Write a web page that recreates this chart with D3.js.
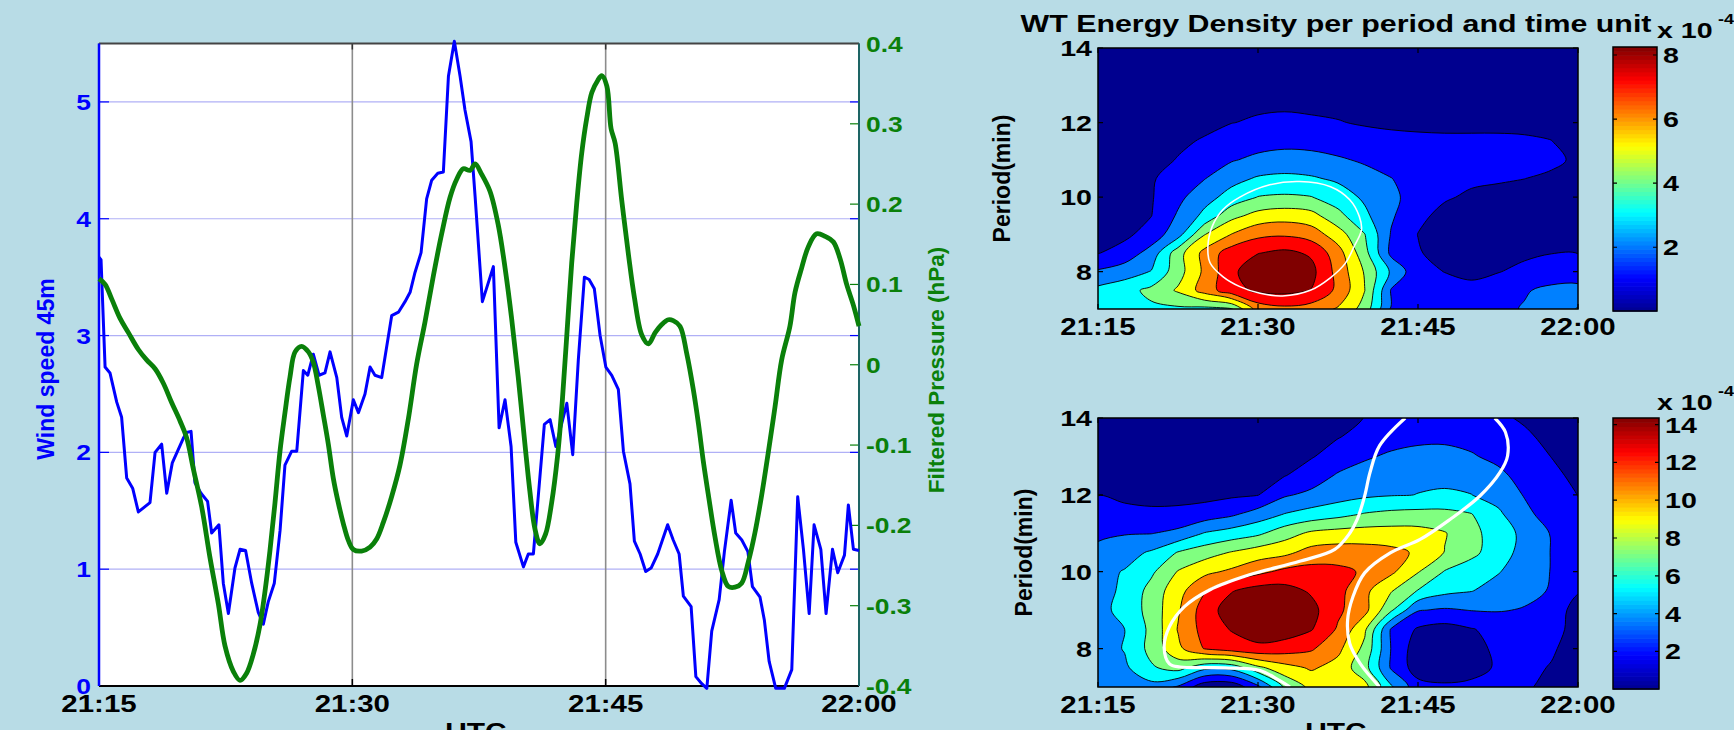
<!DOCTYPE html>
<html>
<head>
<meta charset="utf-8">
<script src="https://cdn.jsdelivr.net/npm/d3@7"></script>
<style>
  body { margin: 0; background: #b8dce6; }
  svg { display: block; }
  text { font-family: 'Liberation Sans', Arial, sans-serif; font-weight: bold; }
</style>
</head>
<body>
<svg id="svg" width="1734" height="730"></svg>
<script>
// time axis: minutes after 21:15 UTC
const timeTicks = [0, 15, 30, 45]
const timeLabels = ['21:15', '21:30', '21:45', '22:00']
const windTicks = [0, 1, 2, 3, 4, 5]
const pressTicks = [-0.4, -0.3, -0.2, -0.1, 0, 0.1, 0.2, 0.3, 0.4]
const pressLabels = ['-0.4', '-0.3', '-0.2', '-0.1', '0', '0.1', '0.2', '0.3', '0.4']
const periodTicks = [8, 10, 12, 14]

// wind speed at 45 m (m/s)
const windTime = [0, 0.12, 0.36, 0.65, 1.05, 1.34, 1.64, 2.0, 2.33, 3.02,
  3.32, 3.71, 4.01, 4.34, 4.99, 5.19, 5.45, 5.68, 6.04, 6.43,
  6.67, 7.1, 7.36, 7.66, 8.05, 8.35, 8.68, 9.04, 9.43, 9.73,
  10.02, 10.38, 10.72, 11.01, 11.41, 11.71, 12.1, 12.36, 12.69, 13.03,
  13.38, 13.68, 14.08, 14.37, 14.67, 15.06, 15.36, 15.75, 16.05, 16.34,
  16.74, 17.33, 17.73, 18.12, 18.42, 18.71, 19.07, 19.4, 19.7, 20.06,
  20.39, 20.69, 21.04, 21.38, 21.67, 22.03, 22.27, 22.7, 23.35, 23.69,
  24.04, 24.4, 24.68, 25.13, 25.42, 25.72, 26.37, 26.71, 27.05, 27.7,
  28.05, 28.38, 28.74, 29.02, 29.33, 29.67, 30.01, 30.36, 30.75, 31.05,
  31.44, 31.7, 32.04, 32.37, 32.69, 33.08, 33.67, 34.0, 34.35, 34.6,
  35.06, 35.34, 35.69, 35.99, 36.28, 36.72, 37.03, 37.43, 37.7, 38.06,
  38.42, 38.69, 39.14, 39.4, 39.68, 40.07, 40.58, 41.02, 41.37, 41.71,
  42.05, 42.34, 42.74, 43.05, 43.43, 43.74, 44.14, 44.37, 44.67, 45.0]
const windSpeed = [3.67, 3.65, 2.73, 2.68, 2.43, 2.30, 1.78, 1.69, 1.49, 1.57,
  2.0, 2.07, 1.65, 1.91, 2.12, 2.17, 2.18, 1.74, 1.65, 1.58,
  1.31, 1.38, 0.88, 0.62, 1.01, 1.17, 1.16, 0.88, 0.63, 0.53,
  0.72, 0.88, 1.33, 1.89, 2.01, 2.01, 2.70, 2.66, 2.84, 2.66,
  2.68, 2.86, 2.64, 2.30, 2.14, 2.45, 2.34, 2.50, 2.73, 2.66,
  2.64, 3.17, 3.20, 3.29, 3.37, 3.54, 3.71, 4.17, 4.33, 4.39,
  4.40, 5.22, 5.52, 5.22, 4.93, 4.66, 4.19, 3.29, 3.59, 2.21,
  2.45, 2.05, 1.23, 1.02, 1.13, 1.13, 2.24, 2.28, 2.05, 2.42,
  1.98, 2.79, 3.50, 3.48, 3.40, 3.0, 2.73, 2.66, 2.54, 2.01,
  1.73, 1.24, 1.13, 0.98, 1.01, 1.13, 1.38, 1.25, 1.13, 0.77,
  0.68, 0.08, 0.02, -0.02, 0.47, 0.74, 1.15, 1.59, 1.31, 1.25,
  1.15, 0.85, 0.76, 0.56, 0.21, -0.02, -0.02, 0.14, 1.62, 1.17,
  0.62, 1.38, 1.17, 0.62, 1.17, 0.97, 1.12, 1.55, 1.17, 1.16]

// filtered pressure (hPa)
const pressTime = [0, 0.36, 0.75, 1.24, 1.74, 2.33, 2.82, 3.32, 3.81, 4.3,
  4.8, 5.19, 5.59, 6.08, 6.57, 7.07, 7.46, 7.96, 8.35, 8.74,
  9.14, 9.53, 9.83, 10.12, 10.42, 10.72, 11.01, 11.31, 11.61, 12.0,
  12.4, 12.69, 12.98, 13.28, 13.58, 13.87, 14.17, 14.47, 14.77, 15.06,
  15.55, 16.05, 16.44, 16.84, 17.33, 17.82, 18.32, 18.81, 19.3, 19.8,
  20.29, 20.78, 21.18, 21.57, 21.97, 22.27, 22.66, 23.15, 23.64, 24.04,
  24.43, 24.82, 25.22, 25.51, 25.81, 26.11, 26.44, 26.8, 27.15, 27.43,
  27.7, 27.99, 28.29, 28.58, 28.88, 29.18, 29.53, 29.77, 30.07, 30.32,
  30.56, 30.95, 31.35, 31.7, 32.14, 32.53, 32.93, 33.32, 33.71, 34.0,
  34.4, 34.8, 35.19, 35.49, 35.78, 36.08, 36.47, 36.87, 37.26, 37.66,
  38.05, 38.45, 38.84, 39.24, 39.63, 40.03, 40.42, 40.91, 41.21, 41.61,
  42.0, 42.49, 42.99, 43.48, 43.88, 44.27, 44.67, 45.0]
const pressure = [0.107, 0.100, 0.082, 0.058, 0.040, 0.019, 0.006, -0.005, -0.023, -0.047,
  -0.070, -0.091, -0.130, -0.177, -0.240, -0.298, -0.350, -0.382, -0.393, -0.384,
  -0.360, -0.324, -0.282, -0.232, -0.172, -0.107, -0.060, -0.015, 0.016, 0.023,
  0.016, 0.003, -0.026, -0.062, -0.099, -0.141, -0.172, -0.198, -0.219, -0.230,
  -0.232, -0.227, -0.217, -0.196, -0.164, -0.125, -0.067, 0.001, 0.053, 0.111,
  0.163, 0.208, 0.231, 0.244, 0.242, 0.250, 0.237, 0.216, 0.174, 0.121,
  0.058, -0.015, -0.099, -0.157, -0.204, -0.223, -0.211, -0.172, -0.114, -0.046,
  0.037, 0.127, 0.202, 0.263, 0.307, 0.339, 0.354, 0.360, 0.347, 0.294,
  0.276, 0.205, 0.137, 0.084, 0.037, 0.026, 0.040, 0.050, 0.056, 0.055,
  0.048, 0.014, -0.031, -0.073, -0.120, -0.162, -0.214, -0.256, -0.276, -0.277,
  -0.272, -0.245, -0.209, -0.162, -0.109, -0.052, 0.006, 0.048, 0.090, 0.121,
  0.147, 0.163, 0.160, 0.153, 0.132, 0.100, 0.074, 0.048]

// wavelet energy grids (x 1e-4), rows = period 14 .. 7 min, cols = time 0 .. 45 min
const gridTime = [0, 2.5, 5, 7.5, 10, 12.5, 15, 17.5, 20, 22.5, 25, 27.5, 30, 32.5, 35, 37.5, 40, 42.5, 45]
const gridPeriod = [14, 13.5, 13, 12.5, 12, 11.5, 11, 10.5, 10, 9.5, 9, 8.5, 8, 7.5, 7]
const energyTop = [
  [0.20, 0.22, 0.25, 0.28, 0.32, 0.36, 0.40, 0.40, 0.38, 0.36, 0.34, 0.32, 0.30, 0.28, 0.27, 0.27, 0.25, 0.23, 0.20],
  [0.25, 0.30, 0.32, 0.35, 0.40, 0.45, 0.48, 0.50, 0.48, 0.45, 0.42, 0.40, 0.38, 0.36, 0.35, 0.35, 0.33, 0.30, 0.28],
  [0.30, 0.35, 0.40, 0.45, 0.50, 0.55, 0.60, 0.62, 0.60, 0.58, 0.55, 0.50, 0.48, 0.45, 0.45, 0.45, 0.42, 0.40, 0.35],
  [0.35, 0.40, 0.45, 0.50, 0.60, 0.70, 0.80, 0.82, 0.80, 0.75, 0.70, 0.65, 0.60, 0.58, 0.55, 0.55, 0.55, 0.50, 0.40],
  [0.40, 0.45, 0.50, 0.60, 0.75, 0.90, 1.00, 1.05, 1.00, 0.95, 0.85, 0.80, 0.78, 0.78, 0.78, 0.78, 0.76, 0.70, 0.50],
  [0.45, 0.50, 0.60, 0.80, 0.98, 1.25, 1.45, 1.55, 1.50, 1.35, 1.20, 1.10, 1.05, 1.02, 1.02, 1.02, 1.00, 0.93, 0.60],
  [0.50, 0.55, 0.70, 0.95, 1.35, 1.75, 2.05, 2.20, 2.15, 1.95, 1.70, 1.40, 1.20, 1.10, 1.08, 1.08, 1.06, 1.00, 0.85],
  [0.55, 0.65, 0.82, 1.35, 1.80, 2.45, 2.85, 2.95, 2.85, 2.60, 2.20, 1.85, 1.40, 1.15, 1.05, 0.98, 0.92, 0.85, 0.70],
  [0.60, 0.70, 0.85, 1.60, 2.40, 3.10, 3.70, 3.80, 3.70, 3.20, 2.60, 2.00, 1.50, 1.00, 0.80, 0.75, 0.78, 0.80, 0.70],
  [0.65, 0.75, 0.90, 1.95, 3.00, 4.30, 4.90, 5.10, 4.90, 3.95, 2.95, 1.95, 1.10, 0.70, 0.55, 0.55, 0.60, 0.65, 0.60],
  [0.70, 0.72, 1.30, 2.40, 4.55, 5.52, 6.20, 6.30, 6.00, 5.00, 3.70, 1.75, 0.90, 0.55, 0.45, 0.45, 0.55, 0.65, 0.65],
  [0.88, 1.30, 2.20, 4.20, 5.80, 6.90, 7.30, 7.55, 7.20, 5.90, 4.00, 1.60, 1.00, 0.55, 0.42, 0.50, 0.75, 0.90, 0.90],
  [1.95, 2.30, 2.80, 4.20, 5.70, 7.10, 8.00, 8.20, 7.60, 6.10, 4.50, 2.60, 1.20, 0.90, 0.60, 0.88, 1.15, 1.30, 1.35],
  [3.00, 3.35, 3.90, 4.70, 5.90, 7.00, 7.50, 7.60, 7.30, 6.20, 4.60, 1.75, 1.35, 1.30, 1.30, 1.45, 1.75, 2.05, 2.10],
  [3.30, 3.45, 3.50, 3.50, 3.40, 3.60, 5.90, 6.20, 6.00, 5.40, 4.20, 1.70, 1.40, 1.35, 1.40, 1.60, 1.90, 2.30, 2.80]
]
const energyBottom = [
  [0.30, 0.30, 0.30, 0.35, 0.40, 0.50, 0.60, 0.75, 0.95, 1.25, 1.62, 1.90, 2.10, 2.15, 2.05, 1.80, 1.45, 1.00, 0.60],
  [0.30, 0.35, 0.40, 0.45, 0.55, 0.70, 0.85, 1.00, 1.25, 1.55, 2.00, 2.45, 2.75, 2.85, 2.70, 2.30, 1.80, 1.30, 0.80],
  [0.35, 0.40, 0.45, 0.55, 0.70, 0.90, 1.10, 1.30, 1.50, 2.20, 2.95, 3.50, 3.80, 3.75, 3.35, 2.80, 2.15, 1.58, 1.00],
  [0.50, 0.55, 0.60, 0.70, 0.90, 1.10, 1.30, 1.55, 2.30, 3.40, 4.00, 4.40, 4.60, 4.60, 4.30, 3.60, 2.60, 1.90, 1.30],
  [1.58, 1.30, 1.15, 1.10, 1.15, 1.35, 1.55, 3.00, 3.60, 4.10, 4.50, 4.70, 4.82, 4.90, 4.82, 4.20, 3.10, 2.20, 1.58],
  [2.00, 2.00, 1.90, 2.00, 2.30, 2.90, 3.90, 4.85, 5.40, 5.90, 6.50, 6.80, 6.90, 6.90, 6.45, 5.10, 3.60, 2.50, 1.80],
  [2.90, 3.10, 3.15, 3.60, 4.90, 5.50, 6.10, 7.30, 8.30, 8.60, 8.70, 8.70, 8.60, 8.10, 6.90, 5.60, 4.40, 3.10, 2.30],
  [3.60, 4.20, 5.00, 6.50, 7.30, 8.10, 8.80, 9.20, 10.2, 10.4, 10.3, 10.0, 9.40, 7.95, 6.80, 5.60, 4.20, 3.15, 2.40],
  [4.30, 4.90, 6.10, 8.10, 9.20, 9.90, 10.8, 11.6, 11.8, 11.6, 11.0, 9.90, 8.10, 6.30, 5.60, 4.90, 4.00, 3.15, 2.40],
  [4.40, 5.00, 7.00, 9.00, 11.1, 12.7, 13.5, 13.4, 12.6, 11.7, 10.0, 8.10, 6.30, 5.20, 4.85, 4.20, 3.60, 3.10, 1.70],
  [4.30, 5.30, 7.00, 9.40, 12.0, 13.6, 14.3, 14.2, 13.3, 11.5, 10.1, 6.60, 3.30, 3.00, 3.25, 3.30, 3.10, 2.30, 1.10],
  [4.10, 4.80, 6.80, 9.70, 11.8, 12.9, 13.7, 13.7, 12.9, 11.0, 8.30, 3.00, 1.40, 1.00, 1.50, 2.10, 2.30, 2.00, 1.20],
  [4.00, 4.90, 6.90, 9.20, 11.3, 12.0, 12.4, 12.0, 11.4, 10.0, 7.60, 3.10, 0.70, 0.60, 1.10, 1.90, 2.20, 1.80, 0.90],
  [3.80, 4.50, 6.20, 7.00, 5.20, 5.30, 7.60, 9.00, 9.80, 9.00, 7.00, 3.00, 0.80, 0.50, 1.00, 1.80, 2.00, 1.50, 0.70],
  [3.50, 4.00, 4.20, 3.00, 0.50, 0.40, 2.80, 6.60, 8.40, 8.60, 8.50, 5.00, 2.20, 1.90, 2.00, 2.10, 1.80, 1.20, 0.60]
]
const levelsTop = [0.917, 1.83, 2.75, 3.67, 4.58, 5.5, 6.42, 7.33]
const levelsBottom = [1.6, 3.2, 4.8, 6.4, 8.0, 9.6, 11.2, 12.8]
const cbarTopTicks = [2, 4, 6, 8]
const cbarBottomTicks = [2, 4, 6, 8, 10, 12, 14]
const cbarTopRange = [0.01, 8.25]
const cbarBottomRange = [0.01, 14.35]

// white significance curves [time, period]
const sigTop = [[10.3, 8.67], [10.7, 9.21], [11.7, 9.66], [13.3, 10.0], [16.1, 10.33], [18.9, 10.42],
  [21.8, 10.28], [23.6, 9.93], [24.5, 9.48], [24.7, 9.12], [24.0, 8.67], [23.2, 8.23], [21.75, 7.83],
  [19.9, 7.5], [17.3, 7.35], [15.2, 7.42], [13.3, 7.6], [11.7, 7.87], [10.5, 8.24]]
const sigBottomA = [[28.8, 14], [26.4, 13.28], [25.5, 12.58], [25.0, 11.97], [24.3, 11.36], [23.6, 11.0],
  [22.2, 10.58], [18.9, 10.27], [14.2, 9.92], [10.5, 9.53], [8.1, 9.09], [6.7, 8.57], [6.2, 8.04],
  [6.7, 7.6], [7.7, 7.52], [11.9, 7.5], [15.2, 7.43], [17.0, 7.17], [18.0, 7.0]]
const sigBottomB = [[37.2, 14], [38.2, 13.63], [38.4, 13.02], [37.7, 12.59], [35.8, 11.97], [33.0, 11.36],
  [30.2, 10.84], [27.4, 10.49], [25.0, 9.97], [23.9, 9.35], [23.4, 8.74], [23.6, 8.13], [24.6, 7.6], [26.4, 7.0]]

const jetStops = [0, 0.125, 0.375, 0.625, 0.875, 1]
const jetColors = ['#00008f', '#0000ff', '#00ffff', '#ffff00', '#ff0000', '#800000']
const jet = d3.scaleLinear().domain(jetStops).range(jetColors)

const svg = d3.select('#svg')

// text helper, widens glyphs like the original export
function label(g, s, x, y, o = {}) {
  const t = g.append('text').attr('x', x).attr('y', y).text(s)
    .attr('font-size', o.size || 22)
    .attr('fill', o.fill || '#000')
    .attr('text-anchor', o.anchor || 'middle')
  if (o.rotate) t.attr('transform', `rotate(-90 ${x} ${y})`)
  const k = o.stretch === undefined ? 1.3 : o.stretch
  if (k !== 1) {
    const w = t.node().getComputedTextLength()
    t.attr('textLength', w * k).attr('lengthAdjust', 'spacingAndGlyphs')
  }
  return t
}

// ---------- left panel: wind speed & filtered pressure ----------
const LP = { x0: 99, x1: 859, y0: 43.5, y1: 686 }
const x = d3.scaleLinear().domain([0, 45]).range([LP.x0, LP.x1])
const yW = d3.scaleLinear().domain([0, 5.5]).range([LP.y1, LP.y0])
const yP = d3.scaleLinear().domain([-0.4, 0.4]).range([LP.y1, LP.y0])

const left = svg.append('g')
left.append('rect')
  .attr('x', LP.x0).attr('y', LP.y0)
  .attr('width', LP.x1 - LP.x0).attr('height', LP.y1 - LP.y0)
  .attr('fill', '#fff')

left.selectAll('.hgrid').data(windTicks.slice(1)).join('line')
  .attr('x1', LP.x0).attr('x2', LP.x1)
  .attr('y1', d => yW(d)).attr('y2', d => yW(d))
  .attr('stroke', '#b0b0f6').attr('stroke-width', 1.2)

left.selectAll('.vgrid').data(timeTicks.slice(1, 3)).join('line')
  .attr('x1', d => x(d)).attr('x2', d => x(d))
  .attr('y1', LP.y0).attr('y2', LP.y1)
  .attr('stroke', '#8c8c8c').attr('stroke-width', 1.6)

// tick marks
left.selectAll('.tb').data(timeTicks).join('line')
  .attr('x1', d => x(d)).attr('x2', d => x(d))
  .attr('y1', LP.y1).attr('y2', LP.y1 - 7).attr('stroke', '#000').attr('stroke-width', 1.5)
left.selectAll('.tt').data(timeTicks).join('line')
  .attr('x1', d => x(d)).attr('x2', d => x(d))
  .attr('y1', LP.y0).attr('y2', LP.y0 + 6).attr('stroke', '#333').attr('stroke-width', 1.5)
left.selectAll('.tl').data(windTicks).join('line')
  .attr('x1', LP.x0).attr('x2', LP.x0 + 10)
  .attr('y1', d => yW(d)).attr('y2', d => yW(d)).attr('stroke', '#0000ff').attr('stroke-width', 1.2)
left.selectAll('.tr').data(windTicks).join('line')
  .attr('x1', LP.x1).attr('x2', LP.x1 - 9)
  .attr('y1', d => yW(d)).attr('y2', d => yW(d)).attr('stroke', '#0000ff').attr('stroke-width', 1.2)
left.selectAll('.tp').data(pressTicks).join('line')
  .attr('x1', LP.x1).attr('x2', LP.x1 - 9)
  .attr('y1', d => yP(d)).attr('y2', d => yP(d)).attr('stroke', '#0a800a').attr('stroke-width', 1.2)

// axes frame
left.append('line').attr('x1', LP.x0).attr('x2', LP.x1).attr('y1', LP.y0).attr('y2', LP.y0)
  .attr('stroke', '#444').attr('stroke-width', 2)
left.append('line').attr('x1', LP.x0).attr('x2', LP.x1).attr('y1', LP.y1).attr('y2', LP.y1)
  .attr('stroke', '#000').attr('stroke-width', 2)
left.append('line').attr('x1', LP.x0).attr('x2', LP.x0).attr('y1', LP.y0).attr('y2', LP.y1)
  .attr('stroke', '#0000ff').attr('stroke-width', 2.5)
left.append('line').attr('x1', LP.x1).attr('x2', LP.x1).attr('y1', LP.y0).attr('y2', LP.y1)
  .attr('stroke', '#1d6464').attr('stroke-width', 2)

// series
left.append('path')
  .datum(d3.zip(windTime, windSpeed))
  .attr('d', d3.line().x(d => x(d[0])).y(d => yW(d[1])))
  .attr('fill', 'none').attr('stroke', '#0000ff').attr('stroke-width', 3)
  .attr('stroke-linejoin', 'round')
left.append('path')
  .datum(d3.zip(pressTime, pressure))
  .attr('d', d3.line().curve(d3.curveCatmullRom).x(d => x(d[0])).y(d => yP(d[1])))
  .attr('fill', 'none').attr('stroke', '#0a800a').attr('stroke-width', 4.8)
  .attr('stroke-linejoin', 'round')

// labels
timeTicks.forEach((t, i) => label(left, timeLabels[i], x(t), 712, { size: 23, stretch: 1.28 }))
windTicks.forEach(v => label(left, String(v), 91, yW(v) + 8, { anchor: 'end', fill: '#0000ff', stretch: 1.2 }))
pressTicks.forEach((v, i) => label(left, pressLabels[i], 866, yP(v) + 8, { anchor: 'start', fill: '#0a800a', stretch: 1.2 }))
label(left, 'Wind speed 45m', 54, 369, { size: 23, fill: '#0000ff', rotate: true, stretch: 1 })
label(left, 'Filtered Pressure (hPa)', 944, 370, { size: 22.5, fill: '#0a800a', rotate: true, stretch: 1 })
label(left, 'UTC', 476, 740, { size: 23 })

// ---------- right panels: wavelet energy ----------
function energyPanel(o) {
  const g = svg.append('g')
  const tx = d3.scaleLinear().domain([0, 45]).range([o.x0, o.x1])
  const py = d3.scaleLinear().domain([7, 14]).range([o.y1, o.y0])
  const n = gridTime.length, m = gridPeriod.length
  const gx = d3.scaleLinear().domain([0.5, n - 0.5]).range([tx(gridTime[0]), tx(gridTime[n - 1])])
  const gy = d3.scaleLinear().domain([0.5, m - 0.5]).range([py(gridPeriod[0]), py(gridPeriod[m - 1])])
  const band = d3.scaleLinear().domain(jetStops.map(s => s * 8)).range(jetColors)

  svg.append('clipPath').attr('id', 'clip' + o.id).append('rect')
    .attr('x', o.x0).attr('y', o.y0).attr('width', o.x1 - o.x0).attr('height', o.y1 - o.y0)
  const body = g.append('g').attr('clip-path', `url(#clip${o.id})`)
  body.append('rect')
    .attr('x', o.x0).attr('y', o.y0).attr('width', o.x1 - o.x0).attr('height', o.y1 - o.y0)
    .attr('fill', band(0))

  const contours = d3.contours().size([n, m]).thresholds(o.levels)(o.grid.flat())
  const ring = d3.line().curve(d3.curveCatmullRomClosed)
  const pathOf = c => c.coordinates
    .map(poly => poly.map(r => ring(r.slice(0, -1).map(p => [gx(p[0]), gy(p[1])]))).join(''))
    .join('')
  body.selectAll('.band').data(contours).join('path')
    .attr('d', pathOf)
    .attr('fill', (d, i) => band(i + 1))
    .attr('fill-rule', 'evenodd')
    .attr('stroke', '#000').attr('stroke-width', 0.9)

  o.sig.forEach(s => {
    body.append('path')
      .datum(s.pts)
      .attr('d', d3.line().curve(s.closed ? d3.curveCatmullRomClosed : d3.curveCatmullRom)
        .x(d => tx(d[0])).y(d => py(d[1])))
      .attr('fill', 'none').attr('stroke', '#fff').attr('stroke-width', o.sigWidth)
  })

  g.append('rect')
    .attr('x', o.x0).attr('y', o.y0).attr('width', o.x1 - o.x0).attr('height', o.y1 - o.y0)
    .attr('fill', 'none').attr('stroke', '#000').attr('stroke-width', 1.5)
  g.selectAll('.xt').data(timeTicks).join('path')
    .attr('d', d => `M${tx(d)},${o.y1}v-5M${tx(d)},${o.y0}v5`)
    .attr('stroke', '#000').attr('stroke-width', 1.2)
  g.selectAll('.yt').data(periodTicks).join('path')
    .attr('d', d => `M${o.x0},${py(d)}h5M${o.x1},${py(d)}h-5`)
    .attr('stroke', '#000').attr('stroke-width', 1.2)

  timeTicks.forEach((t, i) => label(g, timeLabels[i], tx(t), o.xLabelY, { size: 23, stretch: 1.28 }))
  periodTicks.forEach(p => label(g, String(p), o.x0 - 6, py(p) + 8, { anchor: 'end', stretch: 1.3 }))
  label(g, 'Period(min)', o.periodX, (o.y0 + o.y1) / 2, { size: 23, rotate: true, stretch: 1 })

  // colorbar
  const cb = o.cbar
  const cy = d3.scaleLinear().domain(cb.range).range([cb.y1, cb.y0])
  const steps = d3.range(64)
  const sh = (cb.y1 - cb.y0) / 64
  g.selectAll('.cb').data(steps).join('rect')
    .attr('x', cb.x0).attr('width', cb.x1 - cb.x0)
    .attr('y', i => cb.y1 - (i + 1) * sh).attr('height', sh + 0.6)
    .attr('fill', i => jet((i + 0.5) / 64))
  g.append('rect')
    .attr('x', cb.x0).attr('y', cb.y0).attr('width', cb.x1 - cb.x0).attr('height', cb.y1 - cb.y0)
    .attr('fill', 'none').attr('stroke', '#000').attr('stroke-width', 1.5)
  g.selectAll('.cbt').data(cb.ticks).join('path')
    .attr('d', d => `M${cb.x0},${cy(d)}h4M${cb.x1},${cy(d)}h-4`)
    .attr('stroke', '#000').attr('stroke-width', 1.2)
  cb.ticks.forEach(v => label(g, String(v), cb.x1 + 6, cy(v) + 8, { anchor: 'start', stretch: 1.3 }))
  label(g, 'x 10', 1657, cb.y0 - o.expOffset, { anchor: 'start', stretch: 1.3 })
  label(g, '-4', 1718, cb.y0 - o.expOffset - 14, { anchor: 'start', size: 15, stretch: 1.2 })
}

energyPanel({
  id: 'top', x0: 1098, x1: 1578, y0: 48, y1: 309,
  grid: energyTop, levels: levelsTop, xLabelY: 335, periodX: 1010,
  sig: [{ pts: sigTop, closed: true }], sigWidth: 1.6,
  cbar: { x0: 1613, x1: 1657, y0: 47, y1: 311, range: cbarTopRange, ticks: cbarTopTicks },
  expOffset: 9
})
energyPanel({
  id: 'bottom', x0: 1098, x1: 1578, y0: 418, y1: 687,
  grid: energyBottom, levels: levelsBottom, xLabelY: 713, periodX: 1032,
  sig: [{ pts: sigBottomA }, { pts: sigBottomB }], sigWidth: 3.2,
  cbar: { x0: 1613, x1: 1659, y0: 418, y1: 689, range: cbarBottomRange, ticks: cbarBottomTicks },
  expOffset: 8
})

label(svg, 'WT Energy Density per period and time unit', 1336, 32, { size: 23, stretch: 1.32 })
label(svg, 'UTC', 1336, 740, { size: 23 })
</script>
</body>
</html>
